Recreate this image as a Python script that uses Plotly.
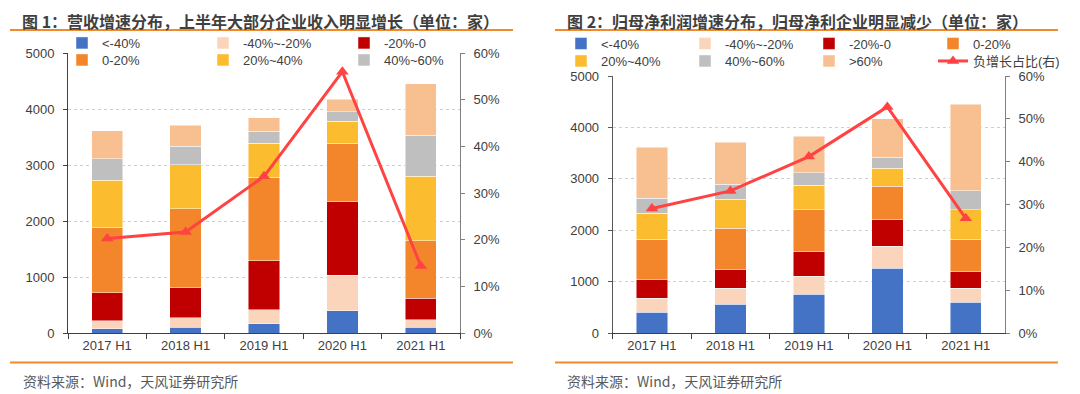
import plotly.graph_objects as go

categories = ["2017 H1", "2018 H1", "2019 H1", "2020 H1", "2021 H1"]
series_names = ["<-40%", "-40%~-20%", "-20%-0", "0-20%", "20%~40%", "40%~60%", ">60%"]
colors = ["#4472C4", "#FAD5BC", "#C00000", "#F3852A", "#FBBD2F", "#BFBFBF", "#F8C090"]

# Chart 1: revenue growth distribution (number of companies)
rev_lt_m40 = [85, 107, 167, 400, 107]
rev_m40_m20 = [135, 173, 256, 636, 137]
rev_m20_0 = [500, 530, 868, 1309, 381]
rev_0_20 = [1165, 1416, 1489, 1042, 1024]
rev_20_40 = [845, 780, 607, 399, 1155]
rev_40_60 = [380, 333, 214, 166, 726]
rev_gt60 = [500, 375, 244, 227, 922]
rev_neg_share = [0.203, 0.217, 0.336, 0.560, 0.144]

# Chart 2: net profit growth distribution (number of companies)
np_lt_m40 = [414, 569, 757, 1268, 608]
np_m40_m20 = [271, 311, 356, 421, 272]
np_m20_0 = [369, 363, 471, 530, 316]
np_0_20 = [771, 802, 816, 641, 629]
np_20_40 = [505, 557, 474, 344, 575]
np_40_60 = [297, 291, 244, 219, 370]
np_gt60 = [985, 822, 713, 744, 1682]
np_neg_share = [0.291, 0.332, 0.412, 0.528, 0.268]

line_name = "负增长占比(右)"

# The page body has an 8px default margin: the figure is sized to fit the
# window and reference pixel positions are offset accordingly.
OFF = 8
W, H = 1080 - OFF, 394 - OFF
def px(x):
    return (x - OFF) / W
def py(y):
    return 1 - (y - OFF) / H

FONT = "Liberation Sans, Arial, Noto Sans CJK SC, sans-serif"
TXT = "#404040"
ORANGE = "#F08A2C"
LINE_RED = "#FF4343"

fig = go.Figure()

rev_series = [rev_lt_m40, rev_m40_m20, rev_m20_0, rev_0_20, rev_20_40, rev_40_60, rev_gt60]
for i, (name, vals) in enumerate(zip(series_names, rev_series)):
    fig.add_trace(go.Bar(
        x=categories, y=vals, name=name, marker_color=colors[i],
        marker_line=dict(color="rgba(255,255,255,0.8)", width=0.6),
        xaxis="x", yaxis="y",
        legend="legend" if i < 3 else "legend2",
        showlegend=(i < 6),
    ))
fig.add_trace(go.Scatter(
    x=categories, y=rev_neg_share, name=line_name, mode="lines+markers",
    line=dict(color=LINE_RED, width=3),
    marker=dict(symbol="triangle-up", size=11, color=LINE_RED),
    xaxis="x", yaxis="y2", showlegend=False, legend="legend2",
))

np_series = [np_lt_m40, np_m40_m20, np_m20_0, np_0_20, np_20_40, np_40_60, np_gt60]
for i, (name, vals) in enumerate(zip(series_names, np_series)):
    fig.add_trace(go.Bar(
        x=categories, y=vals, name=name, marker_color=colors[i],
        marker_line=dict(color="rgba(255,255,255,0.8)", width=0.6),
        xaxis="x2", yaxis="y3",
        legend="legend3" if i < 4 else "legend4",
    ))
fig.add_trace(go.Scatter(
    x=categories, y=np_neg_share, name=line_name, mode="lines+markers",
    line=dict(color=LINE_RED, width=3),
    marker=dict(symbol="triangle-up", size=11, color=LINE_RED),
    xaxis="x2", yaxis="y4", legend="legend5",
))

tickfont = dict(family=FONT, size=13, color=TXT)

def xaxis_cfg(domain, anchor):
    return dict(domain=domain, anchor=anchor, type="category",
                showline=True, linecolor="#404040", linewidth=1,
                ticks="outside", tickson="boundaries", ticklen=5, tickcolor="#404040",
                tickfont=tickfont, showgrid=False, fixedrange=True)

def yleft_cfg(domain, anchor, lc):
    return dict(domain=domain, anchor=anchor, range=[0, 5000], dtick=1000,
                showline=True, linecolor=lc, linewidth=1,
                ticks="outside", ticklen=4, tickcolor=lc,
                ticklabelstandoff=6,
                tickfont=tickfont, showgrid=True, gridcolor="#CFCFCF",
                griddash="dot", gridwidth=1, zeroline=False)

def yright_cfg(overlay, anchor):
    return dict(overlaying=overlay, anchor=anchor, side="right", range=[0, 0.6],
                dtick=0.1, tickformat=".0%", showline=True, linecolor="#7F7F7F",
                linewidth=1, ticks="outside", ticklen=4, tickcolor="#7F7F7F",
                ticklabelstandoff=6,
                tickfont=tickfont, showgrid=False, zeroline=False)

yd1 = [py(333.3), py(53)]
yd2 = [py(333.3), py(76)]

legend_common = dict(orientation="h", xanchor="left", yanchor="middle",
                     bgcolor="rgba(0,0,0,0)", font=dict(family=FONT, size=13, color=TXT),
                     traceorder="normal", entrywidthmode="pixels",
                     itemclick=False, itemdoubleclick=False)

fig.update_layout(
    width=W, height=H,
    margin=dict(l=0, r=0, t=0, b=0, autoexpand=False),
    paper_bgcolor="white", plot_bgcolor="white",
    barmode="stack", bargap=0.6,
    font=dict(family=FONT, size=13, color=TXT),
    xaxis=xaxis_cfg([px(68), px(460)], "y"),
    yaxis=yleft_cfg(yd1, "x", "#404040"),
    yaxis2=yright_cfg("y", "x"),
    xaxis2=xaxis_cfg([px(612.7), px(1005)], "y3"),
    yaxis3=yleft_cfg(yd2, "x2", "#595959"),
    yaxis4=yright_cfg("y3", "x2"),
    legend=dict(legend_common, x=px(62), y=py(43), entrywidth=96),
    legend2=dict(legend_common, x=px(62), y=py(60), entrywidth=96),
    legend3=dict(legend_common, x=px(561), y=py(43.5), entrywidth=79),
    legend4=dict(legend_common, x=px(561), y=py(61), entrywidth=79),
    legend5=dict(legend_common, x=px(933), y=py(61)),
    showlegend=True,
)

shapes = []
for x0, x1 in [(10, 513), (555, 1058)]:
    shapes.append(dict(type="line", xref="paper", yref="paper", x0=px(x0), x1=px(x1),
                       y0=py(30), y1=py(30), line=dict(color=ORANGE, width=2)))
    shapes.append(dict(type="line", xref="paper", yref="paper", x0=px(x0), x1=px(x1),
                       y0=py(362.5), y1=py(362.5), line=dict(color=ORANGE, width=2)))
fig.update_layout(shapes=shapes)

title_font = dict(family="Noto Sans CJK SC, sans-serif", size=16, color="#3F3F3F")
src_font = dict(family="Noto Sans CJK SC, sans-serif", size=14, color="#595959")
annotations = [
    dict(text="<b>图 1：营收增速分布，上半年大部分企业收入明显增长（单位：家）</b>",
         x=px(21), y=py(8), xref="paper", yref="paper", xanchor="left", yanchor="top",
         borderpad=0, showarrow=False, font=title_font),
    dict(text="<b>图 2：归母净利润增速分布，归母净利企业明显减少（单位：家）</b>",
         x=px(566), y=py(8), xref="paper", yref="paper", xanchor="left", yanchor="top",
         borderpad=0, showarrow=False, font=title_font),
    dict(text="资料来源：Wind，天风证券研究所",
         x=px(21), y=py(381), xref="paper", yref="paper", xanchor="left", yanchor="middle",
         showarrow=False, font=src_font),
    dict(text="资料来源：Wind，天风证券研究所",
         x=px(565), y=py(381), xref="paper", yref="paper", xanchor="left", yanchor="middle",
         showarrow=False, font=src_font),
]
fig.update_layout(annotations=annotations)

fig.write_html("out.html", config={"displayModeBar": False})
